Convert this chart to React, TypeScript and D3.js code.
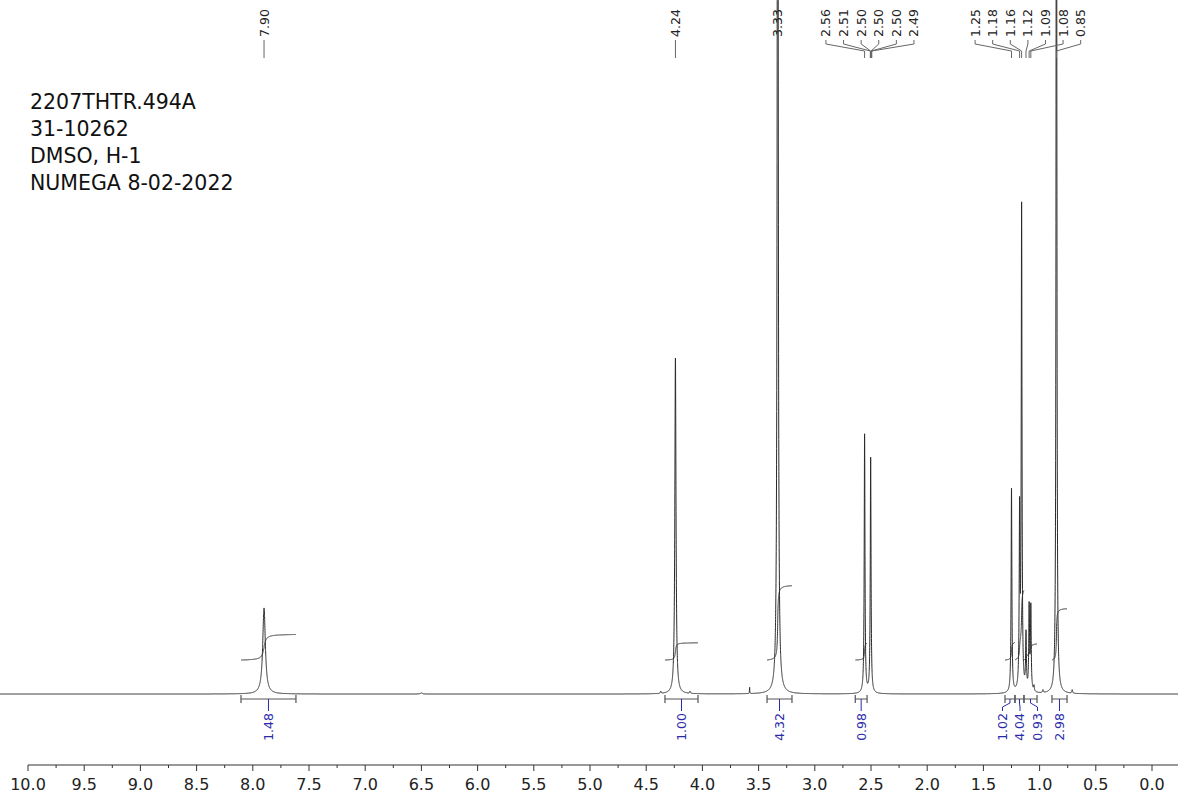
import * as d3 from "d3";
import { useEffect, useRef } from "react";

const sampleInfo = ["2207THTR.494A", "31-10262", "DMSO, H-1", "NUMEGA 8-02-2022"];

// peak centres (ppm), heights (% of plot height), half widths (ppm)
const peakPpm = [7.9, 4.37, 4.24, 4.11, 3.58, 3.33, 2.557, 2.503, 1.25, 1.178, 1.16, 1.121, 1.093, 1.078, 1.05, 0.97, 0.85, 0.71, 6.5];
const peakHeight = [12.4, 0.3, 48.4, 0.3, 0.9, 200, 37.3, 33.9, 29.4, 25, 69.5, 8, 12, 12, 0.8, 0.4, 180, 0.5, 0.15];
const peakWidth = [0.014, 0.004, 0.006, 0.004, 0.0015, 0.0045, 0.004, 0.004, 0.004, 0.004, 0.004, 0.004, 0.004, 0.004, 0.004, 0.004, 0.0035, 0.004, 0.01];

// peak picking labels
const labelText = ["7.90", "4.24", "3.33", "2.56", "2.51", "2.50", "2.50", "2.50", "2.49", "1.25", "1.18", "1.16", "1.12", "1.09", "1.08", "0.85"];
const labelPpm = [7.9, 4.24, 3.33, 2.557, 2.506, 2.503, 2.5, 2.497, 2.493, 1.25, 1.178, 1.16, 1.121, 1.093, 1.078, 0.85];

// integrals
const integralFrom = [8.105, 4.333, 3.425, 2.64, 1.308, 1.219, 1.139, 0.89];
const integralTo = [7.616, 4.039, 3.203, 2.535, 1.219, 1.139, 1.023, 0.756];
const integralValue = [1.48, 1.0, 4.32, 0.98, 1.02, 4.04, 0.93, 2.98];

const majorTicks = d3.range(0, 10.01, 0.5);
const minorTicks = d3.range(0.25, 10, 0.5);

// spread overlapping labels around the mean of their anchors
function spread(anchors: number[], gap: number) {
  const order = anchors.map((a, i) => i).sort((a, b) => anchors[a] - anchors[b]);
  let groups = order.map((i) => ({ idx: [i], center: anchors[i] }));
  let changed = true;
  while (changed) {
    changed = false;
    for (let k = 0; k < groups.length - 1; k++) {
      const a = groups[k], b = groups[k + 1];
      const aEnd = a.center + ((a.idx.length - 1) * gap) / 2;
      const bStart = b.center - ((b.idx.length - 1) * gap) / 2;
      if (bStart - aEnd < gap) {
        const idx = a.idx.concat(b.idx);
        groups.splice(k, 2, { idx, center: d3.mean(idx, (i) => anchors[i])! });
        changed = true;
        break;
      }
    }
  }
  const out: number[] = new Array(anchors.length);
  groups.forEach((g) => {
    g.idx.forEach((i, j) => {
      out[i] = g.center + (j - (g.idx.length - 1) / 2) * gap;
    });
  });
  return out;
}

export default function App() {
  const ref = useRef<SVGSVGElement>(null);

  useEffect(() => {
    const svg = d3.select(ref.current);
    svg.selectAll("*").remove();

    const width = 1178;
    const height = 799;
    const baseY = 694;

    const x = d3.scaleLinear().domain([10, 0]).range([28, 1152]);
    const y = d3.scaleLinear().domain([0, 100]).range([baseY, 0]);
    const intScale = d3.scaleLinear().domain([0, 1]).range([0, 17.2]);

    const spectrum = (p: number) =>
      d3.sum(peakPpm, (c, i) => (peakHeight[i] * peakWidth[i] ** 2) / ((p - c) ** 2 + peakWidth[i] ** 2));

    const grid = d3.range(x.invert(-2), x.invert(width + 2), -0.0004).concat(peakPpm).sort((a, b) => b - a);
    const pts = grid.map((p) => [p, spectrum(p)] as [number, number]);

    // text block
    const info = svg.append("g").attr("font-family", "DejaVu Sans").attr("font-size", 20.5).attr("fill", "#111");
    info.selectAll("text").data(sampleInfo).join("text")
      .attr("x", 30).attr("y", (d, i) => 109 + i * 27)
      .text((d) => d);

    // spectrum
    const line = d3.line<[number, number]>().x((d) => x(d[0])).y((d) => y(d[1]));
    svg.append("path").datum(pts).attr("d", line).attr("fill", "none").attr("stroke", "#2a2a2a").attr("stroke-width", 1);

    // integral curves + bars
    const intG = svg.append("g");
    const barCenters = integralFrom.map((f, i) => (x(f) + x(integralTo[i])) / 2);
    const labelX = spread(barCenters, 17.5);
    integralFrom.forEach((f, i) => {
      const seg = pts.filter((d) => d[0] <= f && d[0] >= integralTo[i]);
      let acc = 0;
      const cum = seg.map((d) => { acc += d[1]; return acc; });
      const total = acc || 1;
      const curve = seg.map((d, j) => [x(d[0]), 660 - intScale((cum[j] / total) * integralValue[i])] as [number, number]);
      intG.append("path").attr("d", d3.line()(curve)).attr("fill", "none").attr("stroke", "#333").attr("stroke-width", 1);

      const x0 = x(f), x1 = x(integralTo[i]);
      intG.append("path")
        .attr("d", `M${x0},695V703M${x0},699H${x1}M${x1},695V703`)
        .attr("fill", "none").attr("stroke", "#555").attr("stroke-width", 1.2);
      intG.append("path")
        .attr("d", `M${barCenters[i]},699V703L${labelX[i]},707V711`)
        .attr("fill", "none").attr("stroke", "#2b2ba8").attr("stroke-width", 1);
      intG.append("text")
        .attr("transform", `translate(${labelX[i] + 4.5},713) rotate(-90)`)
        .attr("text-anchor", "end")
        .attr("font-family", "DejaVu Sans").attr("font-size", 12.5).attr("fill", "#2b2ba8")
        .text(integralValue[i].toFixed(2));
    });

    // peak labels
    const peakX = labelPpm.map((p) => x(p));
    const tagX = spread(peakX, 17.6);
    const tags = svg.append("g");
    labelText.forEach((t, i) => {
      tags.append("path")
        .attr("d", `M${tagX[i]},40V44L${peakX[i]},51V58`)
        .attr("fill", "none").attr("stroke", "#666").attr("stroke-width", 1);
      tags.append("text")
        .attr("transform", `translate(${tagX[i] + 4.5},37) rotate(-90)`)
        .attr("font-family", "DejaVu Sans").attr("font-size", 12.5).attr("fill", "#222")
        .text(t);
    });

    // x axis
    const axisY = 765;
    const ax = svg.append("g");
    ax.append("line").attr("x1", x(10)).attr("x2", width).attr("y1", axisY).attr("y2", axisY).attr("stroke", "#333");
    ax.selectAll(".major").data(majorTicks).join("line")
      .attr("x1", (d) => x(d)).attr("x2", (d) => x(d)).attr("y1", axisY).attr("y2", axisY + 6).attr("stroke", "#333");
    ax.selectAll(".minor").data(minorTicks).join("line")
      .attr("x1", (d) => x(d)).attr("x2", (d) => x(d)).attr("y1", axisY).attr("y2", axisY + 3).attr("stroke", "#333");
    ax.selectAll("text").data(majorTicks).join("text")
      .attr("x", (d) => x(d)).attr("y", 790).attr("text-anchor", "middle")
      .attr("font-family", "DejaVu Sans").attr("font-size", 16).attr("fill", "#222")
      .text((d) => d3.format(".1f")(d));

    svg.attr("viewBox", `0 0 ${width} ${height}`);
  }, []);

  return (
    <div>
      <style>{"body{margin:0;background:#fff}"}</style>
      <svg ref={ref} width={1178} height={799} style={{ display: "block" }} />
    </div>
  );
}
